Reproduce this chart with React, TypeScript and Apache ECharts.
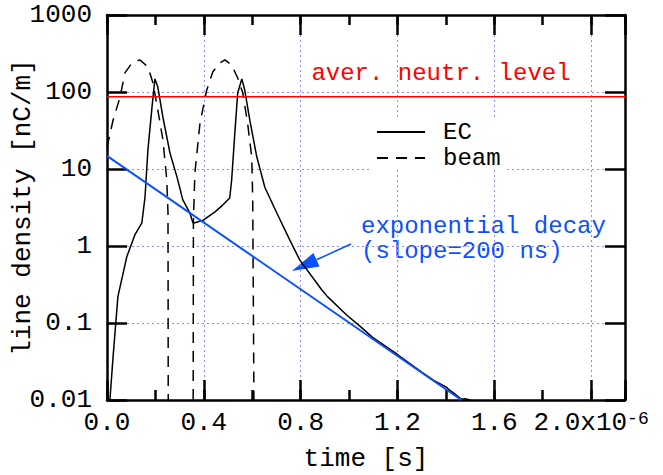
import React, { useEffect, useRef } from 'react';
import * as echarts from 'echarts';

const FONT = "'Liberation Mono', 'Courier New', monospace";
const BLUE = '#0a50ff';
const RED = '#ff0000';
const GRID = '#8c8cff';

// time in units of 1e-6 s
const X_MAX = 2.14;
const xTickValues = [0, 0.4, 0.8, 1.2, 1.6, 2.0];
const xTickLabels = ['0.0', '0.4', '0.8', '1.2', '1.6', '2.0x10{sup|-6}'];
const yTickValues = [0.01, 0.1, 1, 10, 100, 1000];
const yTickLabels = ['0.01', '0.1', '1', '10', '100', '1000'];

// EC line density
const ecT = [0.012, 0.025, 0.045, 0.082, 0.115, 0.144, 0.157, 0.169, 0.186, 0.198, 0.21, 0.231, 0.26, 0.289, 0.313, 0.342, 0.355, 0.363, 0.396, 0.445, 0.478, 0.507, 0.515, 0.528, 0.54, 0.557, 0.569, 0.59, 0.619, 0.652, 0.701, 0.755, 0.796, 0.887, 0.911, 0.99, 1.052, 1.097, 1.15, 1.2, 1.25, 1.3, 1.35, 1.402, 1.414, 1.44, 1.464, 1.48, 1.5];
const ecV = [0.01, 0.036, 0.22, 0.73, 1.39, 2.0, 4.3, 17.6, 64, 148, 116, 47, 16.2, 7.9, 4.0, 2.7, 2.0, 2.0, 2.15, 2.75, 3.4, 4.2, 7.2, 29, 97, 148, 106, 43, 14.3, 5.8, 2.7, 1.2, 0.66, 0.27, 0.22, 0.127, 0.087, 0.065, 0.05, 0.039, 0.03, 0.023, 0.018, 0.0147, 0.0135, 0.0118, 0.0102, 0.0104, 0.01];

// beam line density (two bunches, '-' = gap)
const beamT = [0, 0.025, 0.054, 0.074, 0.103, 0.136, 0.169, 0.19, 0.21, 0.231, 0.247, 0.252, 0.253, 0.3, 0.356, 0.357, 0.363, 0.384, 0.412, 0.437, 0.466, 0.487, 0.515, 0.54, 0.561, 0.581, 0.598, 0.602, 0.607];
const beamV: (number | string)[] = [19, 43, 86, 177, 238, 261, 211, 131, 58, 24, 7.2, 2.7, 0.01, '-', 0.01, 2.15, 8.8, 39, 106, 182, 238, 261, 224, 152, 97, 39, 14.3, 4, 0.01];

// exponential decay (200 ns)
const decayT = [0, 1.464];
const decayV = [14.8, 0.01];

// average neutralization level
const neutrT = [0, X_MAX];
const neutrV = [87, 87];

const zip = (a: number[], b: (number | string)[]) => a.map((t, i) => [t, b[i]]);

const tickStyle = { color: '#000', width: 2.5 };

function fmtX(v: number) {
  const i = xTickValues.findIndex((t) => Math.abs(t - v) < 1e-6);
  return i >= 0 ? xTickLabels[i] : '';
}
function fmtY(v: number) {
  const i = yTickValues.findIndex((t) => Math.abs(Math.log10(t) - Math.log10(v)) < 1e-6);
  return i >= 0 ? yTickLabels[i] : '';
}

export default function App() {
  const ref = useRef<HTMLDivElement>(null);
  useEffect(() => {
    const chart = echarts.init(ref.current!, null, { renderer: 'svg' });
    const baseX = {
      type: 'value',
      min: 0,
      max: X_MAX,
      axisLine: { show: true, onZero: false, lineStyle: tickStyle },
      axisLabel: { show: false },
      splitLine: { show: false },
    };
    const baseY = {
      type: 'log',
      logBase: 10,
      min: 0.01,
      max: 1000,
      axisLine: { show: true, onZero: false, lineStyle: tickStyle },
      axisTick: { show: true, inside: true, length: 20, lineStyle: tickStyle },
      axisLabel: { show: false },
      splitLine: { show: false },
    };
    chart.setOption({
      animation: false,
      backgroundColor: '#fff',
      grid: { left: 107, right: 38, top: 15, bottom: 75, containLabel: false, outerBoundsMode: 'none' },
      xAxis: [
        {
          ...baseX,
          position: 'bottom',
          interval: 0.4,
          name: 'time [s]',
          nameLocation: 'middle',
          nameGap: 46,
          nameMoveOverlap: false,
          nameTextStyle: { fontFamily: FONT, fontSize: 26, color: '#000' },
          axisTick: { show: true, inside: true, length: 20, lineStyle: tickStyle },
          axisLabel: {
            show: true,
            margin: 10,
            fontFamily: FONT,
            fontSize: 26,
            color: '#000',
            showMaxLabel: true,
            hideOverlap: false,
            formatter: fmtX,
            rich: { sup: { fontFamily: FONT, fontSize: 18, color: '#000', verticalAlign: 'top', lineHeight: 18 } },
          },
          splitLine: { show: true, showMinLine: false, showMaxLine: false, lineStyle: { color: GRID, width: 1, type: [2, 3] } },
        },
        { ...baseX, position: 'top', interval: 0.4, axisTick: { show: true, inside: true, length: 20, lineStyle: tickStyle } },
        { ...baseX, position: 'bottom', interval: 0.2, axisLine: { show: false }, axisTick: { show: true, inside: true, length: 10, lineStyle: tickStyle } },
        { ...baseX, position: 'top', interval: 0.2, axisLine: { show: false }, axisTick: { show: true, inside: true, length: 10, lineStyle: tickStyle } },
      ],
      yAxis: [
        {
          ...baseY,
          position: 'left',
          name: 'line density [nC/m]',
          nameLocation: 'middle',
          nameGap: 71,
          nameMoveOverlap: false,
          nameTextStyle: { fontFamily: FONT, fontSize: 26, color: '#000' },
          axisLabel: { show: true, margin: 15, fontFamily: FONT, fontSize: 26, color: '#000', formatter: fmtY, showMaxLabel: true, showMinLabel: true },
          splitLine: { show: true, showMinLine: false, showMaxLine: false, lineStyle: { color: GRID, width: 1, type: [2, 3] } },
        },
        { ...baseY, position: 'right' },
      ],
      legend: {
        data: ['EC', 'beam'],
        orient: 'vertical',
        left: 371,
        top: 120,
        itemWidth: 48,
        itemHeight: 14,
        itemGap: 2,
        padding: [0, 6, 0, 5],
        backgroundColor: '#fff',
        itemStyle: { color: 'transparent', borderColor: 'transparent', borderWidth: 0, opacity: 0 },
        textStyle: { fontFamily: FONT, fontSize: 24, color: '#000', lineHeight: 22, padding: [0, 0, 0, 13] },
      },
      series: [
        {
          name: 'beam',
          type: 'line',
          xAxisIndex: 0,
          yAxisIndex: 0,
          data: zip(beamT, beamV),
          showSymbol: false,
          symbol: 'none',
          connectNulls: false,
          lineStyle: { color: '#000', width: 1.5, type: [11, 8] },
          itemStyle: { color: '#000' },
        },
        {
          name: 'EC',
          type: 'line',
          data: zip(ecT, ecV),
          showSymbol: false,
          symbol: 'none',
          lineStyle: { color: '#000', width: 1.5 },
          itemStyle: { color: '#000' },
        },
        {
          name: 'aver. neutr. level',
          type: 'line',
          data: zip(neutrT, neutrV),
          showSymbol: false,
          symbol: 'none',
          lineStyle: { color: RED, width: 1.5 },
          itemStyle: { color: RED },
        },
        {
          name: 'exponential decay',
          type: 'line',
          data: zip(decayT, decayV),
          showSymbol: false,
          symbol: 'none',
          lineStyle: { color: BLUE, width: 2 },
          itemStyle: { color: BLUE },
        },
      ],
      graphic: [
        {
          type: 'text',
          x: 441,
          y: 73,
          style: { text: 'aver. neutr. level', fontFamily: FONT, fontSize: 24, fill: RED, align: 'center', verticalAlign: 'middle' },
        },
        {
          type: 'text',
          x: 361,
          y: 214,
          style: { text: 'exponential decay\n(slope=200 ns)', fontFamily: FONT, fontSize: 24, lineHeight: 25, fill: BLUE, align: 'left', verticalAlign: 'top' },
        },
        {
          type: 'line',
          shape: { x1: 351, y1: 244, x2: 316.5, y2: 259.8 },
          style: { stroke: BLUE, lineWidth: 1.5 },
        },
        {
          type: 'polygon',
          shape: { points: [[292, 271], [319.6, 266.6], [313.4, 253]] },
          style: { fill: BLUE },
        },
      ],
    });
    return () => chart.dispose();
  }, []);
  return <div ref={ref} style={{ position: 'fixed', left: 0, top: 0, width: 663, height: 475, background: '#fff' }} />;
}
